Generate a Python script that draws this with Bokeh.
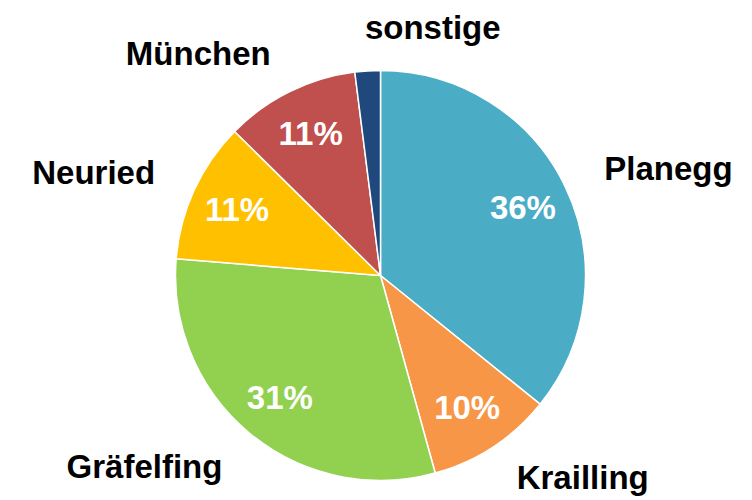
import math
from bokeh.plotting import figure
from bokeh.models import ColumnDataSource, Range1d
from bokeh.core.properties import value
from bokeh.embed import file_html
from bokeh.resources import INLINE

# ---- data ----
categories = ["Planegg", "Krailling", "Gräfelfing", "Neuried", "München", "sonstige"]
shares = [35.8, 9.9, 30.6, 11.1, 10.6, 2.0]
colors = ["#4BACC6", "#F79646", "#92D050", "#FFC000", "#C0504D", "#1F497D"]

# ---- layout ----
W, H = 752, 500
CX, CY = 380, 225
R = 205
INNER_K = 0.77
OUTER_K = 1.21
EDGE = 23  # keep outer labels this far from the top/bottom edge
FONT = value("Liberation Sans")
FSIZE = "33px"

total = sum(shares)
starts, ends, mids = [], [], []
acc = 0.0
for v in shares:
    a0 = math.pi / 2 - 2 * math.pi * acc / total
    acc += v
    a1 = math.pi / 2 - 2 * math.pi * acc / total
    starts.append(a0)
    ends.append(a1)
    mids.append((a0 + a1) / 2)

src = ColumnDataSource(dict(cat=categories, val=shares, color=colors,
                            start=starts, end=ends))

p = figure(width=W, height=H, output_backend="svg", toolbar_location=None,
           x_range=Range1d(0, W), y_range=Range1d(0, H), min_border=0)
p.axis.visible = False
p.grid.visible = False
p.outline_line_color = None
p.background_fill_color = "white"
p.border_fill_color = "white"

p.wedge(x=CX, y=CY, radius=R, start_angle="start", end_angle="end",
        direction="clock", fill_color="color", line_color="white",
        line_width=1.5, source=src)

# percentage labels inside
px, py, pt = [], [], []
for v, m in zip(shares, mids):
    if 100 * v / total >= 5:
        px.append(CX + INNER_K * R * math.cos(m))
        py.append(CY + INNER_K * R * math.sin(m))
        pt.append(f"{100 * v / total:.0f}%")
p.text(x=px, y=py, text=pt, text_color="white", text_font=FONT,
       text_font_style="bold", text_font_size=FSIZE,
       text_align="center", text_baseline="middle")

# category labels outside
lx, ly, la = [], [], []
for m in mids:
    c, s = math.cos(m), math.sin(m)
    lx.append(CX + OUTER_K * R * c)
    ly.append(min(max(CY + OUTER_K * R * s, EDGE), H - EDGE))
    la.append("left" if c >= -0.1 else "right")
lsrc = ColumnDataSource(dict(x=lx, y=ly, t=categories, a=la))
p.text(x="x", y="y", text="t", text_align="a", text_color="black",
       text_font=FONT, text_font_style="bold", text_font_size=FSIZE,
       text_baseline="middle", source=lsrc)

open("out.html", "w").write(file_html(p, INLINE))
